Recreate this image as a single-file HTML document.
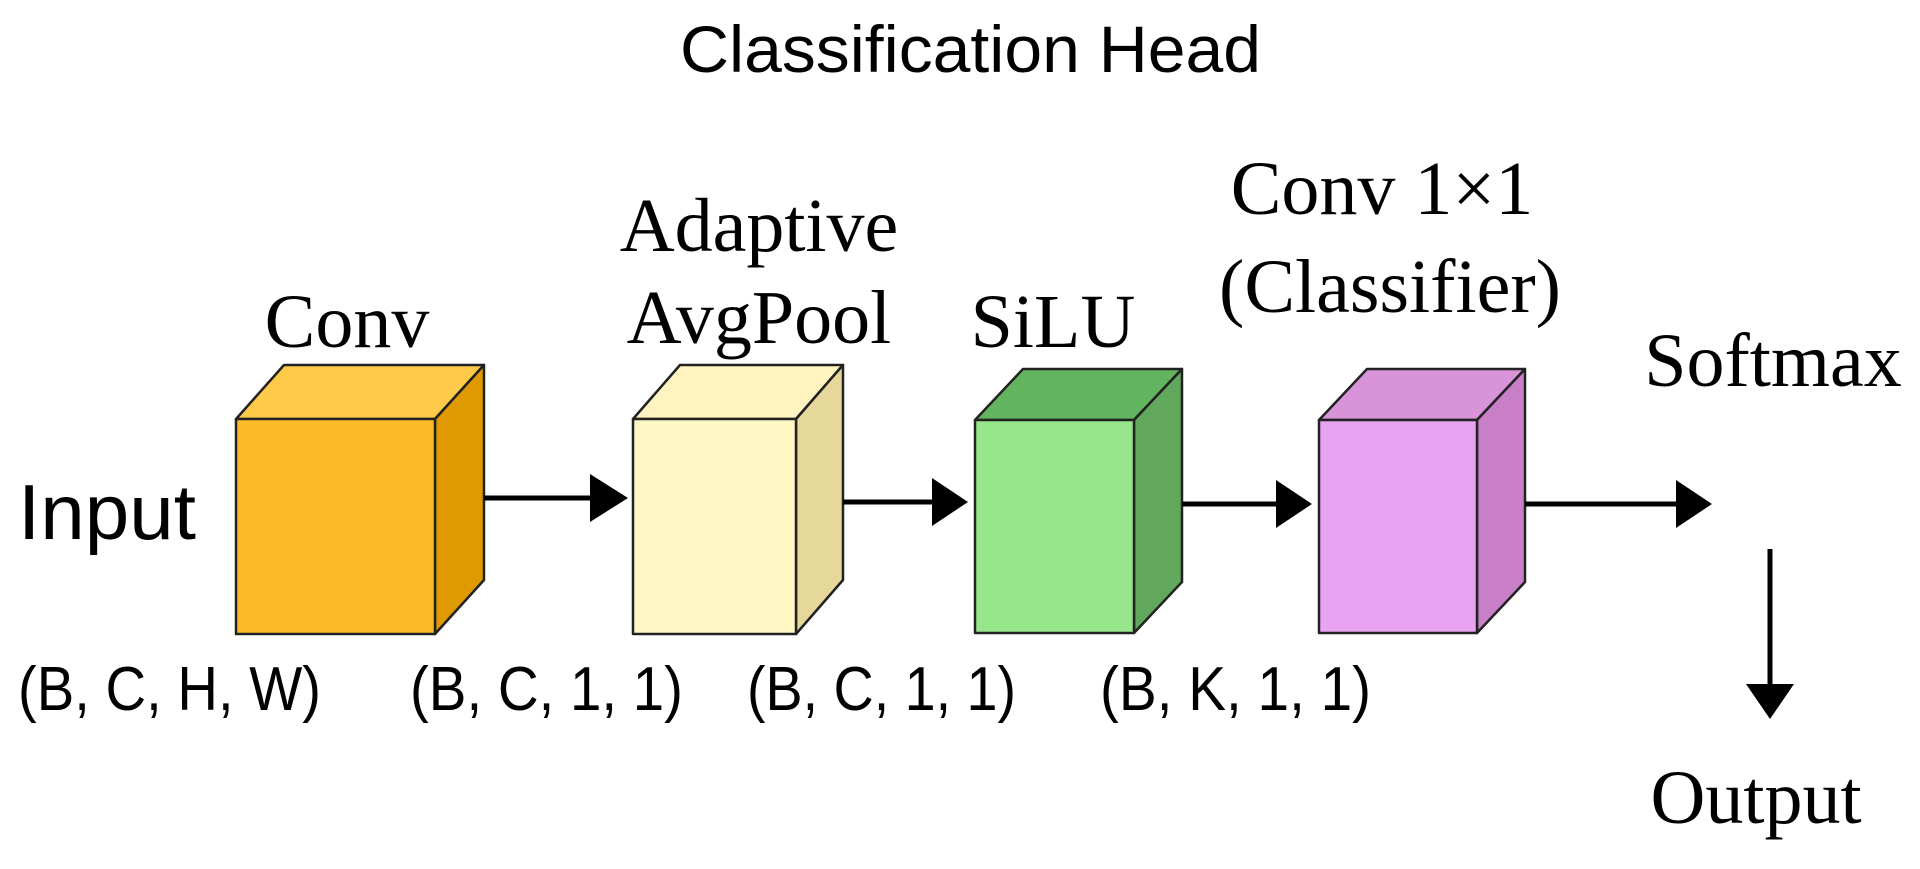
<!DOCTYPE html>
<html><head><meta charset="utf-8"><style>html,body{margin:0;padding:0;background:#fff}svg{display:block}</style></head>
<body>
<svg width="1920" height="869" viewBox="0 0 1920 869" xmlns="http://www.w3.org/2000/svg">
<rect width="1920" height="869" fill="#fff"/>
<g font-family="Liberation Sans, sans-serif" fill="#000">
<text x="680" y="72" font-size="66" textLength="581" lengthAdjust="spacingAndGlyphs">Classification Head</text>
<text x="18" y="539" font-size="78" textLength="178" lengthAdjust="spacingAndGlyphs">Input</text>
<text x="18" y="710" font-size="62" textLength="303" lengthAdjust="spacingAndGlyphs">(B,  C, H, W)</text>
<text x="410" y="710" font-size="62" textLength="273" lengthAdjust="spacingAndGlyphs">(B,  C, 1, 1)</text>
<text x="747" y="710" font-size="62" textLength="269" lengthAdjust="spacingAndGlyphs">(B,  C, 1, 1)</text>
<text x="1100" y="710" font-size="62" textLength="271" lengthAdjust="spacingAndGlyphs">(B,  K, 1, 1)</text>
</g>
<g font-family="Liberation Serif, serif" fill="#000" font-size="76" text-anchor="middle">
<text x="347" y="347">Conv</text>
<text x="759" y="251">Adaptive</text>
<text x="759" y="343">AvgPool</text>
<text x="1053" y="347">SiLU</text>
<text x="1382" y="214">Conv 1×1</text>
<text x="1390" y="312">(Classifier)</text>
<text x="1773" y="386">Softmax</text>
<text x="1756" y="823">Output</text>
</g>
<g stroke="#222" stroke-width="2.5" stroke-linejoin="round">
<polygon points="236,419 284,365 484,365 435,419" fill="#FFC94A"/>
<polygon points="435,419 484,365 484,580 435,634" fill="#DE9A00"/>
<rect x="236" y="419" width="199" height="215" fill="#FDBB2A"/>
<polygon points="633,419 680,365 843,365 796,419" fill="#FFF4C0"/>
<polygon points="796,419 843,365 843,580 796,634" fill="#E6D79B"/>
<rect x="633" y="419" width="163" height="215" fill="#FFF7C4"/>
<polygon points="975,420 1023,369 1182,369 1134,420" fill="#63B45E"/>
<polygon points="1134,420 1182,369 1182,582 1134,633" fill="#62A85C"/>
<rect x="975" y="420" width="159" height="213" fill="#98E68B"/>
<polygon points="1319,420 1367,369 1525,369 1477,420" fill="#D993D9"/>
<polygon points="1477,420 1525,369 1525,582 1477,633" fill="#C97FC8"/>
<rect x="1319" y="420" width="158" height="213" fill="#E9A3F2"/>
</g>
<g stroke="#000" stroke-width="5" fill="none">
<line x1="484" y1="498" x2="600" y2="498"/>
<line x1="843" y1="502" x2="940" y2="502"/>
<line x1="1182" y1="504" x2="1285" y2="504"/>
<line x1="1525" y1="504" x2="1685" y2="504"/>
<line x1="1770" y1="549" x2="1770" y2="690"/>
</g>
<g fill="#000">
<polygon points="590,474 628,498 590,522"/>
<polygon points="932,478 968,502 932,526"/>
<polygon points="1276,480 1312,504 1276,528"/>
<polygon points="1676,480 1712,504 1676,528"/>
<polygon points="1746,684 1794,684 1770,719"/>
</g>
</svg>
</body></html>
